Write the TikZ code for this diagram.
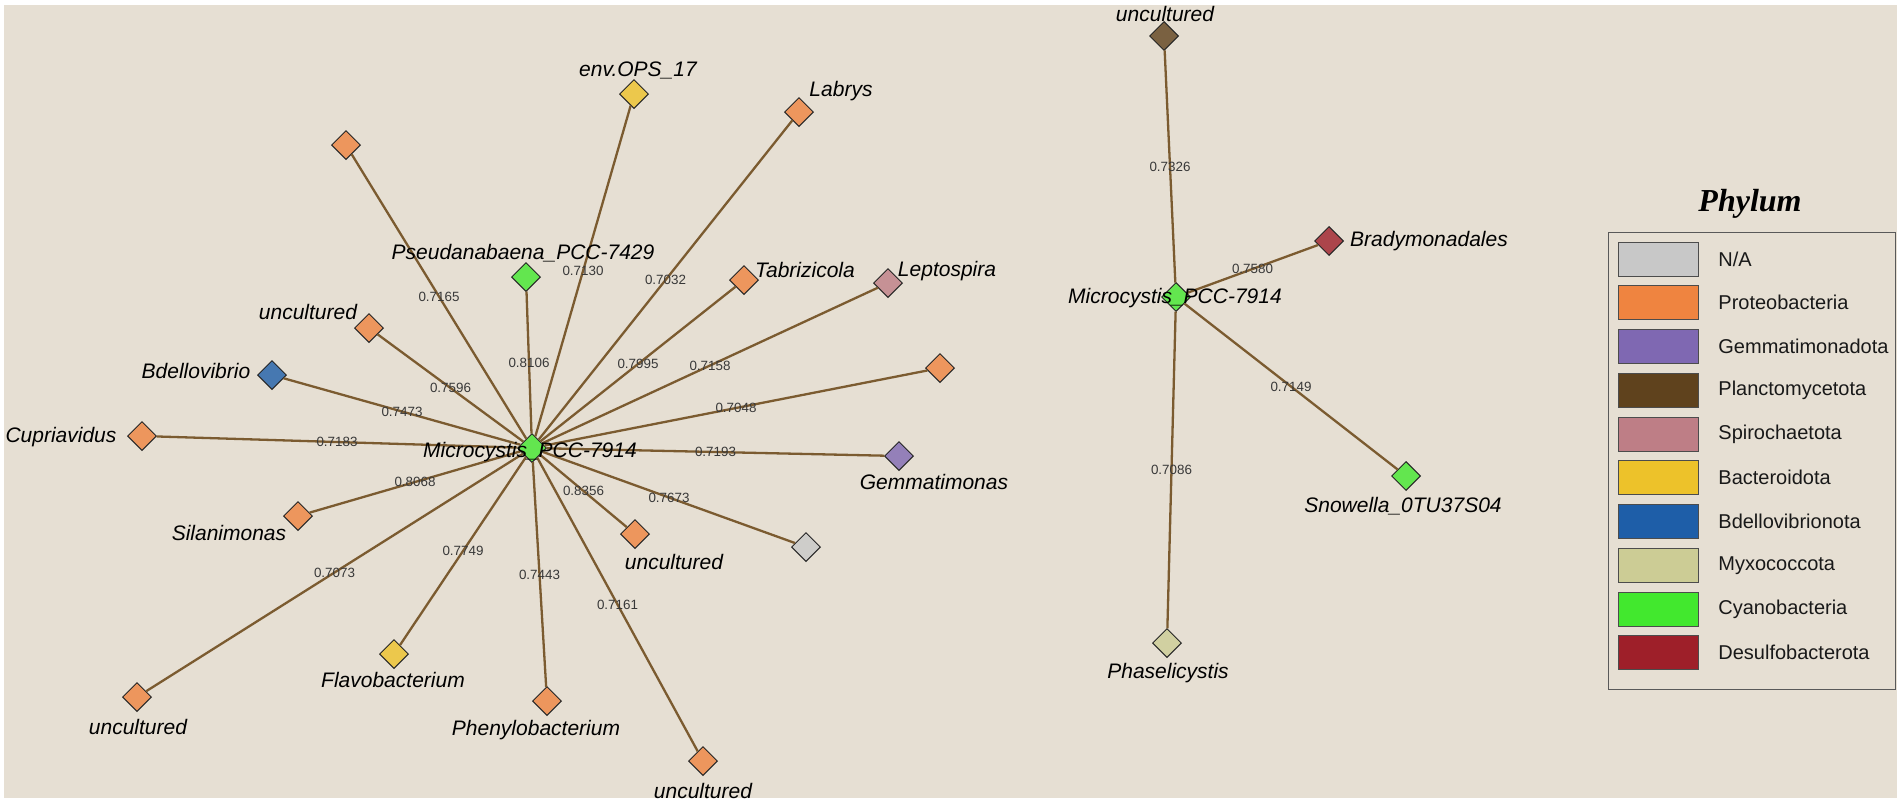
\documentclass[tikz,border=0pt]{standalone}
\usepackage{fontspec}
\setmainfont{Liberation Sans}
\newfontfamily\titlefont{Liberation Serif}
\usetikzlibrary{shapes.geometric}
\definecolor{bgc}{HTML}{E6DFD3}
\definecolor{edgec}{HTML}{7B5B30}
\definecolor{cNA}{HTML}{C8C8C8}
\definecolor{cProteo}{HTML}{EF8440}
\definecolor{cGemma}{HTML}{7F68B2}
\definecolor{cPlanc}{HTML}{5F421D}
\definecolor{cSpiro}{HTML}{BE7E86}
\definecolor{cBacter}{HTML}{EDC22A}
\definecolor{cBdello}{HTML}{1E5EA8}
\definecolor{cMyxo}{HTML}{CCCC95}
\definecolor{cCyano}{HTML}{42E82E}
\definecolor{cDesulfo}{HTML}{9E1F29}
\tikzset{
  dia/.style={diamond, draw=black!85, line width=0.5pt, minimum width=14.5pt, minimum height=14.5pt, inner sep=0pt, fill=#1!80!bgc},
  lbl/.style={font=\fontsize{10.5}{12}\selectfont\itshape, text=black, inner sep=0pt},
  wt/.style={font=\fontsize{6.7}{7.5}\selectfont, text=black!78, inner sep=0pt},
  link/.style={draw=edgec, line width=1.15pt},
  swatch/.style={draw=black!70, line width=0.5pt, fill=#1},
  legtext/.style={font=\fontsize{10}{12}\selectfont, text=black!90, anchor=west, inner sep=0pt},
}
\begin{document}
\begin{tikzpicture}[x=0.5pt,y=-0.5pt]
\useasboundingbox (0,0) rectangle (1902,805);
\fill[white] (0,0) rectangle (1902,805);
\fill[bgc] (4,5) rectangle (1897,798);

% ---- left cluster nodes
\node[dia=cCyano] (hA) at (532,448) {};
\node[dia=cProteo] (n1) at (346,145) {};
\node[dia=cBacter] (n2) at (634,94) {};
\node[dia=cProteo] (n3) at (799,112) {};
\node[dia=cCyano] (n4) at (526,277) {};
\node[dia=cProteo] (n5) at (744,280) {};
\node[dia=cSpiro] (n6) at (888,283) {};
\node[dia=cProteo] (n7) at (940,368) {};
\node[dia=cProteo] (n8) at (369,328) {};
\node[dia=cBdello] (n9) at (272,375) {};
\node[dia=cProteo] (n10) at (142,436) {};
\node[dia=cGemma] (n11) at (899,456) {};
\node[dia=cProteo] (n12) at (298,516) {};
\node[dia=cProteo] (n13) at (635,534) {};
\node[dia=cNA] (n14) at (806,547) {};
\node[dia=cProteo] (n15) at (137,697) {};
\node[dia=cBacter] (n16) at (394,654) {};
\node[dia=cProteo] (n17) at (547,701) {};
\node[dia=cProteo] (n18) at (703,761) {};

% ---- right cluster nodes
\node[dia=cCyano] (hB) at (1176,297) {};
\node[dia=cPlanc] (m1) at (1164,36) {};
\node[dia=cDesulfo] (m2) at (1329,241) {};
\node[dia=cCyano] (m3) at (1406,476) {};
\node[dia=cMyxo] (m4) at (1167,643) {};

% ---- edges
\draw[link] (hA) -- node[wt]{0.7165} (n1);
\draw[link] (hA) -- node[wt]{0.7130} (n2);
\draw[link] (hA) -- node[wt]{0.7032} (n3);
\draw[link] (hA) -- node[wt]{0.8106} (n4);
\draw[link] (hA) -- node[wt]{0.7995} (n5);
\draw[link] (hA) -- node[wt]{0.7158} (n6);
\draw[link] (hA) -- node[wt]{0.7048} (n7);
\draw[link] (hA) -- node[wt]{0.7596} (n8);
\draw[link] (hA) -- node[wt]{0.7473} (n9);
\draw[link] (hA) -- node[wt]{0.7183} (n10);
\draw[link] (hA) -- node[wt]{0.7193} (n11);
\draw[link] (hA) -- node[wt]{0.8068} (n12);
\draw[link] (hA) -- node[wt]{0.8356} (n13);
\draw[link] (hA) -- node[wt]{0.7673} (n14);
\draw[link] (hA) -- node[wt]{0.7073} (n15);
\draw[link] (hA) -- node[wt]{0.7749} (n16);
\draw[link] (hA) -- node[wt]{0.7443} (n17);
\draw[link] (hA) -- node[wt]{0.7161} (n18);
\draw[link] (hB) -- node[wt]{0.7326} (m1);
\draw[link] (hB) -- node[wt]{0.7580} (m2);
\draw[link] (hB) -- node[wt]{0.7149} (m3);
\draw[link] (hB) -- node[wt]{0.7086} (m4);

% ---- node labels
\node[lbl] (hAl) at (530,452) {Microcystis\_PCC-7914};
\node[lbl] (n2l) at (638,70) {env.OPS\_17};
\node[lbl] (n3l) at (841,91) {Labrys};
\node[lbl] (n4l) at (523,253) {Pseudanabaena\_PCC-7429};
\node[lbl] (n5l) at (805,270) {Tabrizicola};
\node[lbl] (n6l) at (947,271) {Leptospira};
\node[lbl] (n8l) at (308,312) {uncultured};
\node[lbl] (n9l) at (196,371) {Bdellovibrio};
\node[lbl] (n10l) at (61,437) {Cupriavidus};
\node[lbl] (n11l) at (934,482) {Gemmatimonas};
\node[lbl] (n12l) at (229,533) {Silanimonas};
\node[lbl] (n13l) at (674,562) {uncultured};
\node[lbl] (n15l) at (138,727) {uncultured};
\node[lbl] (n16l) at (393,680) {Flavobacterium};
\node[lbl] (n17l) at (536,730) {Phenylobacterium};
\node[lbl] (n18l) at (703,791) {uncultured};
\node[lbl] (hBl) at (1175,298) {Microcystis\_PCC-7914};
\node[lbl] (m1l) at (1165,14) {uncultured};
\node[lbl] (m2l) at (1429,241) {Bradymonadales};
\node[lbl] (m3l) at (1403,506) {Snowella\_0TU37S04};
\node[lbl] (m4l) at (1168,673) {Phaselicystis};

% ---- legend
\node[font=\titlefont\fontsize{16}{18}\selectfont\bfseries\itshape, inner sep=0pt] (legtitle) at (1750,204) {Phylum};
\draw[draw=black!65, line width=0.5pt] (1608,232) rectangle (1895,689);
\foreach \c/\t [count=\i from 0] in {cNA/N\slash A, cProteo/Proteobacteria, cGemma/Gemmatimonadota, cPlanc/Planctomycetota, cSpiro/Spirochaetota, cBacter/Bacteroidota, cBdello/Bdellovibrionota, cMyxo/Myxococcota, cCyano/Cyanobacteria, cDesulfo/Desulfobacterota}{
  \draw[swatch=\c] (1618,{259+43.75*\i-17}) rectangle (1698,{259+43.75*\i+17});
  \node[legtext] (leg\i) at (1718,{259+43.75*\i}) {\t};
}
\end{tikzpicture}
\end{document}
